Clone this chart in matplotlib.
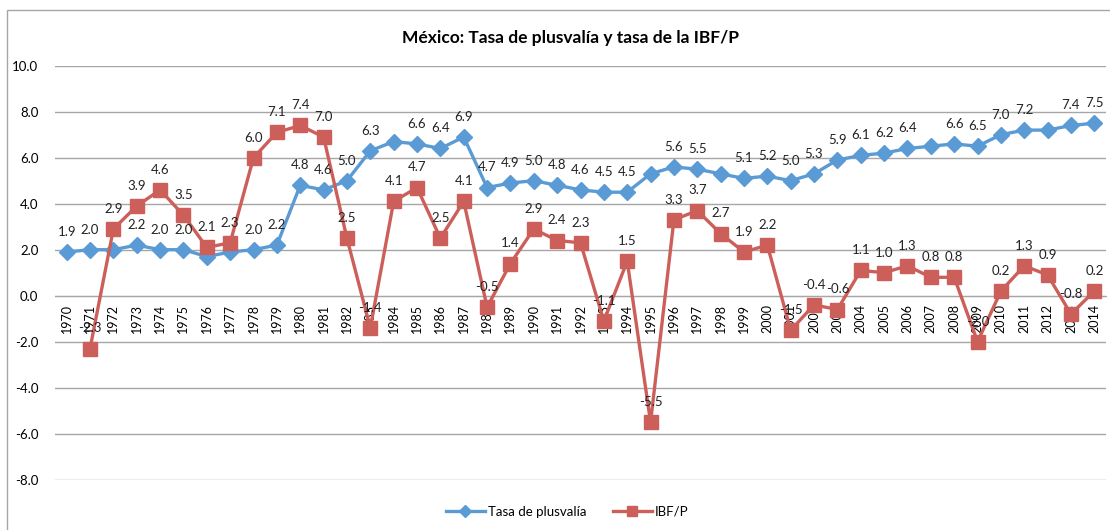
import matplotlib
matplotlib.use("Agg")
import matplotlib.pyplot as plt
from matplotlib.patches import Rectangle
import numpy as np

years = list(range(1970, 2015))
plusvalia = [1.9, 2.0, 2.0, 2.2, 2.0, 2.0, 1.7, 1.9, 2.0, 2.2,
             4.8, 4.6, 5.0, 6.3, 6.7, 6.6, 6.4, 6.9, 4.7, 4.9,
             5.0, 4.8, 4.6, 4.5, 4.5, 5.3, 5.6, 5.5, 5.3, 5.1,
             5.2, 5.0, 5.3, 5.9, 6.1, 6.2, 6.4, 6.5, 6.6, 6.5,
             7.0, 7.2, 7.2, 7.4, 7.5]
plusvalia_labels = ["1.9", "2.0", "", "2.2", "2.0", "2.0", "", "", "2.0", "2.2",
                    "4.8", "4.6", "5.0", "6.3", "", "6.6", "6.4", "6.9", "4.7", "4.9",
                    "5.0", "4.8", "4.6", "4.5", "4.5", "", "5.6", "5.5", "", "5.1",
                    "5.2", "5.0", "5.3", "5.9", "6.1", "6.2", "6.4", "", "6.6", "6.5",
                    "7.0", "7.2", "", "7.4", "7.5"]
ibfp = [np.nan, -2.3, 2.9, 3.9, 4.6, 3.5, 2.1, 2.3, 6.0, 7.1,
        7.4, 6.9, 2.5, -1.4, 4.1, 4.7, 2.5, 4.1, -0.5, 1.4,
        2.9, 2.4, 2.3, -1.1, 1.5, -5.5, 3.3, 3.7, 2.7, 1.9,
        2.2, -1.5, -0.4, -0.6, 1.1, 1.0, 1.3, 0.8, 0.8, -2.0,
        0.2, 1.3, 0.9, -0.8, 0.2]
ibfp_labels = ["", "-2.3", "2.9", "3.9", "4.6", "3.5", "2.1", "2.3", "6.0", "7.1",
               "7.4", "7.0", "2.5", "-1.4", "4.1", "4.7", "2.5", "4.1", "-0.5", "1.4",
               "2.9", "2.4", "2.3", "-1.1", "1.5", "-5.5", "3.3", "3.7", "2.7", "1.9",
               "2.2", "-1.5", "-0.4", "-0.6", "1.1", "1.0", "1.3", "0.8", "0.8", "-2.0",
               "0.2", "1.3", "0.9", "-0.8", "0.2"]
yticks = [-8, -6, -4, -2, 0, 2, 4, 6, 8, 10]

plt.rcParams['font.family'] = ['Lato', 'DejaVu Sans']

W, H = 1110, 530
fig = plt.figure(figsize=(W / 100, H / 100), dpi=100)
fig.patches.append(Rectangle((7 / W, -0.05), 1.2, 1 - 10 / H + 0.05,
                             transform=fig.transFigure, fill=False,
                             edgecolor='#A6A6A6', linewidth=1.0))

left, right = 55 / W, 1106 / W
bottom, top = 1 - 479.7 / H, 1 - 65.7 / H
ax = fig.add_axes([left, bottom, right - left, top - bottom])

blue = '#5B9BD5'
red = '#CD5F5A'
x = np.arange(len(years))

ax.plot(x, plusvalia, color=blue, linewidth=2.4, marker='D', markersize=8.5,
        label='Tasa de plusvalía', zorder=3)
ax.plot(x, ibfp, color=red, linewidth=2.4, marker='s', markersize=9.5,
        label='IBF/P', zorder=4)

for xi, v, lab in zip(x, plusvalia, plusvalia_labels):
    if lab:
        ax.annotate(lab, (xi, v), xytext=(0, 14.5), textcoords='offset points',
                    ha='center', va='center', fontsize=9.5, color='#222222', zorder=6)
for xi, v, lab in zip(x, ibfp, ibfp_labels):
    if lab:
        ax.annotate(lab, (xi, v), xytext=(0, 14.5), textcoords='offset points',
                    ha='center', va='center', fontsize=9.5, color='#222222', zorder=6)

ax.set_xlim(-0.5, len(years) - 0.5)
ax.set_ylim(-8, 10)
ax.set_yticks(yticks)
ax.set_yticklabels([f"{t:.1f}" for t in yticks], fontsize=9.5)
ax.grid(axis='y', color='#A6A6A6', linewidth=1.0, zorder=0)
ax.set_axisbelow(True)
for s in ['top', 'right', 'left']:
    ax.spines[s].set_visible(False)
ax.spines['bottom'].set_position(('data', 0))
ax.spines['bottom'].set_color('#A6A6A6')
ax.set_xticks(x)
ax.set_xticklabels([str(y) for y in years], rotation=90, fontsize=9)
ax.tick_params(axis='x', length=0, pad=6)
ax.tick_params(axis='y', length=0, pad=12)

fig.text(570 / W, 1 - 38 / H, 'México: Tasa de plusvalía y tasa de la IBF/P',
         ha='center', va='center', fontsize=12.5, fontweight='bold')

leg = fig.legend(loc='center', bbox_to_anchor=(567 / W, 1 - 512 / H), ncol=2,
                 frameon=False, fontsize=9.5, handlelength=3.0, columnspacing=2.0,
                 handletextpad=0.2, markerscale=0.7)

fig.savefig('out.png', dpi=100)
